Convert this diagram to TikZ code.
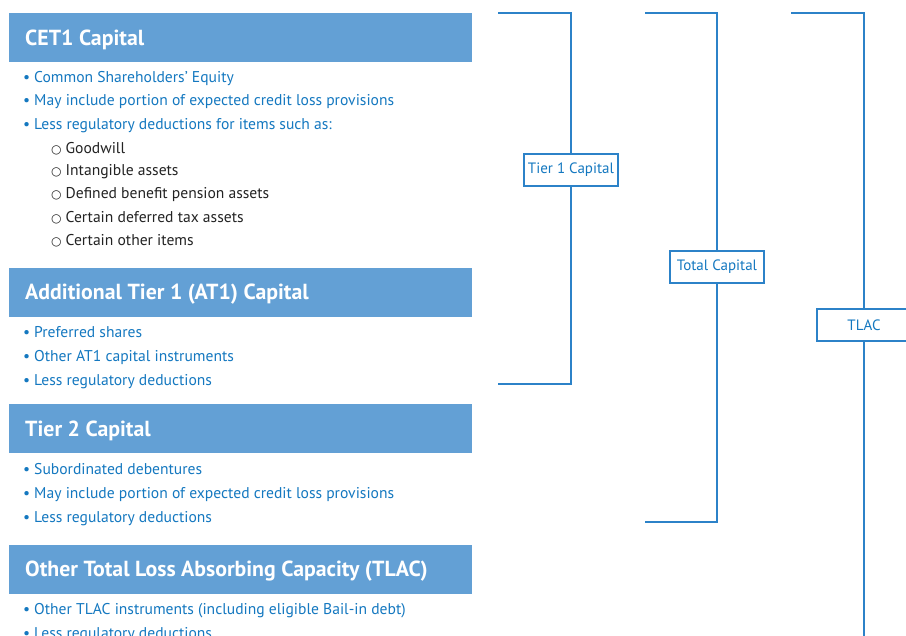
\documentclass[tikz,border=0pt]{standalone}
\usepackage{fontspec}
\setmainfont{PT Sans}
\newfontfamily\dvfont{DejaVu Sans}
\definecolor{barfill}{RGB}{99,160,213}
\definecolor{txtblue}{RGB}{20,120,192}
\definecolor{linecol}{RGB}{44,130,200}
\definecolor{darktxt}{RGB}{35,35,35}
\begin{document}
\begin{tikzpicture}[x=1pt,y=-1pt,
  bar/.style={fill=barfill,draw=none,minimum width=463pt,minimum height=49pt,anchor=north west,inner sep=0pt},
  bartext/.style={anchor=west,text=white,font=\bfseries\fontsize{21.8}{24}\selectfont,inner sep=0pt},
  item/.style={anchor=west,text=txtblue,font=\fontsize{15.6}{18}\selectfont,inner sep=0pt},
  subitem/.style={anchor=west,text=darktxt,font=\fontsize{15.6}{18}\selectfont,inner sep=0pt},
  label/.style={draw=linecol,line width=1.1pt,fill=white,text=txtblue,font=\fontsize{15}{17}\selectfont,minimum width=94pt,minimum height=32pt,inner sep=0pt},
  brack/.style={draw=linecol,line width=1.3pt}]
\useasboundingbox (0,0) rectangle (906,636);
\clip (0,0) rectangle (906,636);
\fill[white] (0,0) rectangle (906,636);
\newcommand{\bul}{\textbullet\hspace{4pt}}
\newcommand{\circbul}{{\dvfont\fontsize{12}{14}\selectfont ○}\hspace{4pt}}
% CET1
\node[bar] (b1) at (9,13) {};
\node[bartext] (h1) at (25,40) {CET1 Capital};
\node[item] (i11) at (23,78.5) {\bul Common Shareholders’ Equity};
\node[item] (i12) at (23,101.5) {\bul May include portion of expected credit loss provisions};
\node[item] (i13) at (23,125.5) {\bul Less regulatory deductions for items such as:};
\node[subitem] (s1) at (51,148.5) {\circbul Goodwill};
\node[subitem] (s2) at (51,171.5) {\circbul Intangible assets};
\node[subitem] (s3) at (51,194.5) {\circbul Defined benefit pension assets};
\node[subitem] (s4) at (51,217.5) {\circbul Certain deferred tax assets};
\node[subitem] (s5) at (51,240.5) {\circbul Certain other items};
% AT1
\node[bar] (b2) at (9,268) {};
\node[bartext] (h2) at (25,294) {Additional Tier 1 (AT1) Capital};
\node[item] (i21) at (23,332.5) {\bul Preferred shares};
\node[item] (i22) at (23,357.5) {\bul Other AT1 capital instruments};
\node[item] (i23) at (23,381.5) {\bul Less regulatory deductions};
% Tier 2
\node[bar] (b3) at (9,404) {};
\node[bartext] (h3) at (25,431) {Tier 2 Capital};
\node[item] (i31) at (23,469.5) {\bul Subordinated debentures};
\node[item] (i32) at (23,494.5) {\bul May include portion of expected credit loss provisions};
\node[item] (i33) at (23,518.5) {\bul Less regulatory deductions};
% TLAC
\node[bar] (b4) at (9,545) {};
\node[bartext] (h4) at (25,571) {Other Total Loss Absorbing Capacity (TLAC)};
\node[item] (i41) at (23,610.5) {\bul Other TLAC instruments (including eligible Bail-in debt)};
\node[item] (i42) at (23,634.5) {\bul Less regulatory deductions};
% Brackets
\coordinate (t1a) at (498,13);
\coordinate (t1b) at (571,13);
\coordinate (t1c) at (571,384);
\coordinate (t1d) at (498,384);
\node[label] (t1) at (571,170) {Tier 1 Capital};
\draw[brack] (t1a) -- (t1b) -- (t1.north);
\draw[brack] (t1.south) -- (t1c) -- (t1d);
\coordinate (t2a) at (645,13);
\coordinate (t2b) at (717,13);
\coordinate (t2c) at (717,522);
\coordinate (t2d) at (645,522);
\node[label] (t2) at (717,267) {Total Capital};
\draw[brack] (t2a) -- (t2b) -- (t2.north);
\draw[brack] (t2.south) -- (t2c) -- (t2d);
\coordinate (t3a) at (791,13);
\coordinate (t3b) at (864,13);
\coordinate (t3c) at (864,640);
\node[label] (t3) at (864,325) {TLAC};
\draw[brack] (t3a) -- (t3b) -- (t3.north);
\draw[brack] (t3.south) -- (t3c);
\end{tikzpicture}
\end{document}
